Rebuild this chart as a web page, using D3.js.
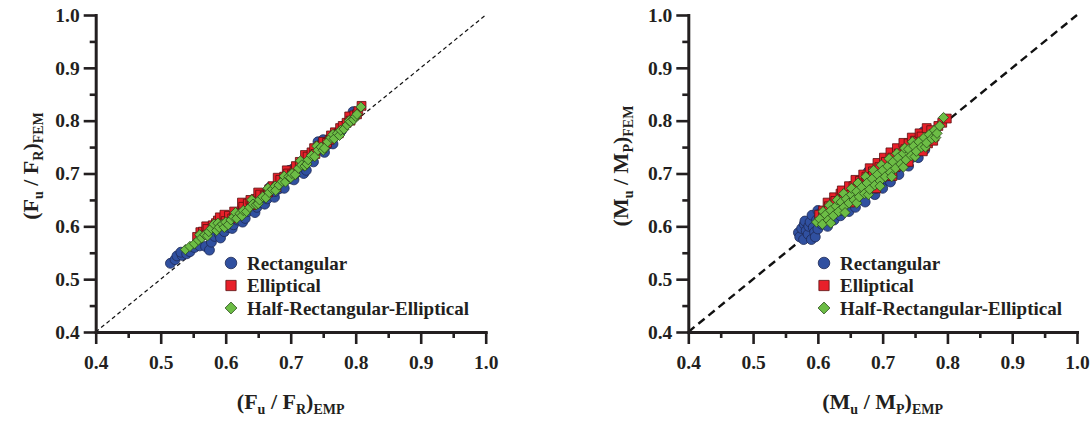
<!DOCTYPE html>
<html>
<head>
<meta charset="utf-8">
<script src="https://cdn.jsdelivr.net/npm/d3@7/dist/d3.min.js"></script>
<style>
  html, body { margin: 0; padding: 0; background: #fff; }
  svg { display: block; }
  svg text { font-family: "Liberation Serif", "Times New Roman", Times, serif; font-weight: bold; fill: #231f20; }
</style>
</head>
<body>
<svg id="chart" width="1091" height="422" font-family="Liberation Serif, Times New Roman, serif"></svg>
<script>
// Axis ticks shared by both panels
const majorTicks = [0.4, 0.5, 0.6, 0.7, 0.8, 0.9, 1.0];
const minorTicks = [0.45, 0.55, 0.65, 0.75, 0.85, 0.95];
const seriesNames = ["Rectangular", "Elliptical", "Half-Rectangular-Elliptical"];

// Ultimate load ratio: empirical (x) vs. FEM (y)
const forceRect = [[0.515,0.530],[0.522,0.537],[0.525,0.544],[0.533,0.545],[0.531,0.551],[0.540,0.548],[0.545,0.552],[0.552,0.560],[0.560,0.563],[0.569,0.562],[0.575,0.555],[0.578,0.570],[0.583,0.581],[0.590,0.585],[0.592,0.578],[0.598,0.590],[0.600,0.606],[0.604,0.598],[0.607,0.612],[0.610,0.596],[0.612,0.603],[0.618,0.612],[0.622,0.617],[0.626,0.608],[0.630,0.615],[0.634,0.628],[0.640,0.644],[0.641,0.632],[0.645,0.626],[0.648,0.636],[0.652,0.645],[0.658,0.650],[0.660,0.642],[0.664,0.652],[0.668,0.674],[0.670,0.662],[0.675,0.655],[0.676,0.666],[0.682,0.671],[0.688,0.680],[0.690,0.672],[0.694,0.689],[0.698,0.706],[0.700,0.690],[0.704,0.709],[0.705,0.688],[0.708,0.700],[0.712,0.705],[0.716,0.714],[0.720,0.700],[0.724,0.706],[0.720,0.716],[0.727,0.724],[0.733,0.730],[0.735,0.722],[0.738,0.742],[0.742,0.760],[0.744,0.748],[0.748,0.758],[0.750,0.764],[0.752,0.740],[0.756,0.754],[0.762,0.767],[0.765,0.756],[0.770,0.774],[0.778,0.781],[0.782,0.790],[0.786,0.795],[0.796,0.817]];
const forceEllip = [[0.556,0.580],[0.561,0.589],[0.565,0.590],[0.570,0.600],[0.572,0.595],[0.580,0.602],[0.585,0.606],[0.588,0.611],[0.591,0.617],[0.598,0.622],[0.600,0.610],[0.605,0.620],[0.610,0.615],[0.613,0.628],[0.620,0.625],[0.625,0.645],[0.627,0.637],[0.634,0.643],[0.638,0.650],[0.640,0.640],[0.646,0.652],[0.650,0.664],[0.653,0.660],[0.660,0.658],[0.665,0.664],[0.667,0.670],[0.672,0.676],[0.678,0.674],[0.680,0.692],[0.684,0.688],[0.690,0.694],[0.694,0.706],[0.696,0.700],[0.702,0.698],[0.706,0.704],[0.708,0.714],[0.714,0.722],[0.720,0.720],[0.722,0.735],[0.726,0.732],[0.732,0.740],[0.736,0.748],[0.738,0.737],[0.744,0.752],[0.748,0.748],[0.750,0.760],[0.756,0.758],[0.760,0.764],[0.762,0.772],[0.768,0.778],[0.774,0.776],[0.776,0.786],[0.780,0.790],[0.786,0.796],[0.790,0.808],[0.792,0.800],[0.798,0.810],[0.802,0.812],[0.804,0.818],[0.809,0.828]];
const forceHalf = [[0.538,0.556],[0.545,0.562],[0.552,0.567],[0.558,0.574],[0.560,0.584],[0.563,0.578],[0.568,0.584],[0.572,0.582],[0.574,0.590],[0.578,0.596],[0.582,0.604],[0.586,0.592],[0.588,0.606],[0.590,0.598],[0.595,0.604],[0.598,0.598],[0.600,0.608],[0.604,0.603],[0.608,0.612],[0.612,0.618],[0.615,0.626],[0.617,0.615],[0.622,0.624],[0.625,0.620],[0.627,0.630],[0.632,0.628],[0.637,0.636],[0.640,0.650],[0.642,0.642],[0.647,0.641],[0.650,0.643],[0.652,0.650],[0.657,0.656],[0.662,0.654],[0.665,0.672],[0.667,0.664],[0.672,0.670],[0.676,0.676],[0.677,0.668],[0.682,0.678],[0.687,0.685],[0.690,0.695],[0.692,0.684],[0.697,0.694],[0.700,0.692],[0.702,0.700],[0.707,0.698],[0.712,0.710],[0.715,0.724],[0.717,0.716],[0.722,0.714],[0.725,0.718],[0.727,0.726],[0.732,0.734],[0.737,0.732],[0.740,0.752],[0.742,0.744],[0.747,0.750],[0.750,0.744],[0.752,0.748],[0.757,0.760],[0.762,0.768],[0.765,0.774],[0.767,0.766],[0.772,0.776],[0.775,0.772],[0.777,0.782],[0.782,0.784],[0.787,0.792],[0.790,0.800],[0.792,0.798],[0.797,0.802],[0.800,0.808],[0.802,0.812],[0.808,0.826]];

// Ultimate moment ratio: empirical (x) vs. FEM (y)
const momentRect = [[0.570,0.588],[0.572,0.580],[0.575,0.596],[0.578,0.575],[0.579,0.604],[0.580,0.610],[0.582,0.592],[0.585,0.585],[0.586,0.600],[0.588,0.608],[0.590,0.575],[0.591,0.621],[0.593,0.598],[0.595,0.589],[0.596,0.580],[0.598,0.612],[0.600,0.595],[0.600,0.630],[0.603,0.617],[0.604,0.625],[0.606,0.604],[0.610,0.625],[0.612,0.610],[0.615,0.600],[0.616,0.632],[0.620,0.618],[0.624,0.640],[0.625,0.612],[0.628,0.626],[0.632,0.646],[0.635,0.620],[0.636,0.630],[0.640,0.655],[0.645,0.638],[0.648,0.628],[0.650,0.662],[0.655,0.645],[0.658,0.636],[0.660,0.670],[0.664,0.650],[0.668,0.676],[0.672,0.660],[0.673,0.646],[0.678,0.704],[0.680,0.664],[0.685,0.690],[0.688,0.660],[0.690,0.672],[0.695,0.700],[0.700,0.684],[0.700,0.672],[0.705,0.714],[0.710,0.694],[0.712,0.684],[0.715,0.722],[0.720,0.706],[0.725,0.698],[0.726,0.732],[0.732,0.718],[0.738,0.744],[0.740,0.714],[0.745,0.730],[0.752,0.758],[0.755,0.730],[0.758,0.745],[0.763,0.779],[0.765,0.745],[0.768,0.760]];
const momentEllip = [[0.602,0.622],[0.608,0.630],[0.612,0.615],[0.615,0.645],[0.617,0.638],[0.622,0.628],[0.625,0.655],[0.627,0.648],[0.632,0.636],[0.635,0.662],[0.637,0.668],[0.640,0.652],[0.645,0.662],[0.648,0.676],[0.650,0.645],[0.655,0.676],[0.658,0.688],[0.660,0.660],[0.665,0.686],[0.670,0.668],[0.670,0.698],[0.675,0.694],[0.680,0.676],[0.680,0.710],[0.685,0.704],[0.690,0.684],[0.690,0.672],[0.692,0.720],[0.695,0.712],[0.700,0.694],[0.702,0.730],[0.705,0.722],[0.710,0.704],[0.712,0.740],[0.715,0.730],[0.715,0.695],[0.720,0.712],[0.722,0.748],[0.725,0.738],[0.730,0.722],[0.732,0.758],[0.735,0.746],[0.740,0.757],[0.740,0.722],[0.745,0.735],[0.745,0.768],[0.750,0.762],[0.755,0.745],[0.757,0.776],[0.760,0.770],[0.762,0.742],[0.765,0.752],[0.768,0.786],[0.770,0.757],[0.775,0.782],[0.778,0.762],[0.780,0.770],[0.786,0.790],[0.792,0.796],[0.799,0.804]];
const momentHalf = [[0.598,0.608],[0.603,0.614],[0.607,0.604],[0.608,0.628],[0.612,0.622],[0.616,0.612],[0.618,0.640],[0.620,0.630],[0.620,0.606],[0.624,0.620],[0.628,0.638],[0.630,0.650],[0.632,0.628],[0.636,0.646],[0.640,0.636],[0.640,0.662],[0.642,0.626],[0.644,0.652],[0.648,0.644],[0.652,0.660],[0.652,0.672],[0.656,0.650],[0.660,0.666],[0.660,0.644],[0.662,0.682],[0.664,0.656],[0.668,0.674],[0.672,0.662],[0.674,0.694],[0.676,0.682],[0.678,0.660],[0.680,0.670],[0.684,0.690],[0.686,0.706],[0.688,0.678],[0.692,0.698],[0.696,0.686],[0.696,0.676],[0.698,0.716],[0.700,0.706],[0.704,0.694],[0.708,0.714],[0.710,0.728],[0.712,0.702],[0.714,0.694],[0.716,0.722],[0.720,0.710],[0.722,0.738],[0.724,0.730],[0.728,0.718],[0.732,0.738],[0.732,0.712],[0.734,0.748],[0.736,0.726],[0.740,0.746],[0.744,0.734],[0.746,0.760],[0.748,0.752],[0.750,0.732],[0.752,0.742],[0.756,0.760],[0.760,0.750],[0.764,0.768],[0.766,0.750],[0.768,0.758],[0.772,0.774],[0.776,0.766],[0.780,0.782],[0.782,0.768],[0.784,0.776],[0.788,0.790],[0.794,0.806]];

const svg = d3.select("#chart");

// Tilted square used for the third series
const symbolRhomb = {
  draw(ctx, size) {
    const h = Math.sqrt(size) / Math.SQRT2 * 1.0;
    const r = Math.sqrt(size / 2);
    ctx.moveTo(0, -r);
    ctx.lineTo(r, 0);
    ctx.lineTo(0, r);
    ctx.lineTo(-r, 0);
    ctx.closePath();
  }
};

const markerStyles = [
  { fill: "#3050a0", stroke: "#1e2a55", symbol: d3.symbolCircle, size: 78 },
  { fill: "#e8202a", stroke: "#5a1010", symbol: d3.symbolSquare, size: 78 },
  { fill: "#6cbd45", stroke: "#2a4a1a", symbol: symbolRhomb, size: 52 }
];

// Builds "(A_a / B_b)_sub" as tspans
function mathTitle(text, parts) {
  parts.forEach(p => {
    const t = text.append("tspan").text(p.t);
    if (p.sub) t.attr("font-size", 14).attr("dy", 5);
    else if (p.up) t.attr("dy", -5);
  });
}

function panel(cfg) {
  const x = d3.scaleLinear().domain([0.4, 1.0]).range([cfg.x0, cfg.x1]);
  const y = d3.scaleLinear().domain([0.4, 1.0]).range([332, 15]);
  const g = svg.append("g");

  // reference line y = x
  g.append("line")
    .attr("x1", x(0.4)).attr("y1", y(0.4))
    .attr("x2", x(1.0)).attr("y2", y(1.0))
    .attr("stroke", "#111").attr("stroke-width", cfg.dashWidth)
    .attr("stroke-dasharray", cfg.dash);

  // scatter points, one layer per series
  cfg.series.forEach((data, i) => {
    const st = markerStyles[i];
    g.append("g").selectAll("path").data(data).join("path")
      .attr("transform", d => `translate(${x(d[0])},${y(d[1])})`)
      .attr("d", d3.symbol().type(st.symbol).size(st.size))
      .attr("fill", st.fill).attr("stroke", st.stroke).attr("stroke-width", 0.8);
  });

  // axes: minor ticks first, then major ticks with labels
  const yMinor = g.append("g").attr("transform", `translate(${cfg.x0},0)`)
    .call(d3.axisLeft(y).tickValues(minorTicks).tickSize(6).tickSizeOuter(0).tickFormat(""));
  const xMinor = g.append("g").attr("transform", `translate(0,332)`)
    .call(d3.axisBottom(x).tickValues(minorTicks).tickSize(6).tickSizeOuter(0).tickFormat(""));
  const yAx = g.append("g").attr("transform", `translate(${cfg.x0},0)`)
    .call(d3.axisLeft(y).tickValues(majorTicks).tickSize(12).tickSizeOuter(0).tickPadding(4).tickFormat(d3.format(".1f")));
  const xAx = g.append("g").attr("transform", `translate(0,332)`)
    .call(d3.axisBottom(x).tickValues(majorTicks).tickSize(12).tickSizeOuter(0).tickPadding(11).tickFormat(d3.format(".1f")));

  [yMinor, xMinor, yAx, xAx].forEach(a => {
    a.attr("font-family", null).attr("font-size", null);
    a.select(".domain").attr("stroke", "#231f20").attr("stroke-width", 3).attr("stroke-linecap", "square");
    a.selectAll(".tick line").attr("stroke", "#231f20").attr("stroke-width", 2.6);
    a.selectAll("text").attr("font-size", 19.5).attr("fill", "#231f20");
  });
  [yMinor, xMinor].forEach(a => a.select(".domain").remove());

  // axis titles
  const xt = g.append("text").attr("x", (cfg.x0 + cfg.x1) / 2).attr("y", 409)
    .attr("text-anchor", "middle").attr("font-size", 22);
  mathTitle(xt, cfg.xTitle);
  const yt = g.append("text")
    .attr("transform", `translate(${cfg.titleX},166) rotate(-90)`)
    .attr("text-anchor", "middle").attr("font-size", 22);
  mathTitle(yt, cfg.yTitle);

  // legend
  const lg = g.append("g");
  seriesNames.forEach((name, i) => {
    const st = markerStyles[i];
    const yy = 263 + i * 22.5;
    lg.append("path")
      .attr("transform", `translate(${cfg.legendX},${yy})`)
      .attr("d", d3.symbol().type(st.symbol).size(st.size * 1.35))
      .attr("fill", st.fill).attr("stroke", st.stroke).attr("stroke-width", 0.8);
    lg.append("text").attr("x", cfg.legendX + 16).attr("y", yy + 6.5)
      .attr("font-size", 19).text(name);
  });
}

const sub = (t) => ({ t, sub: true });
const up = (t) => ({ t, up: true });

panel({
  x0: 95.7, x1: 485.7, titleX: 38, legendX: 231,
  dash: "4,3", dashWidth: 1.2,
  series: [forceRect, forceEllip, forceHalf],
  xTitle: [{ t: "(F" }, sub("u"), up(" / F"), sub("R"), up(")"), sub("EMP")],
  yTitle: [{ t: "(F" }, sub("u"), up(" / F"), sub("R"), up(")"), sub("FEM")]
});

panel({
  x0: 688.3, x1: 1077, titleX: 628, legendX: 824,
  dash: "8,5", dashWidth: 2.4,
  series: [momentRect, momentEllip, momentHalf],
  xTitle: [{ t: "(M" }, sub("u"), up(" / M"), sub("P"), up(")"), sub("EMP")],
  yTitle: [{ t: "(M" }, sub("u"), up(" / M"), sub("P"), up(")"), sub("FEM")]
});
</script>
</body>
</html>
